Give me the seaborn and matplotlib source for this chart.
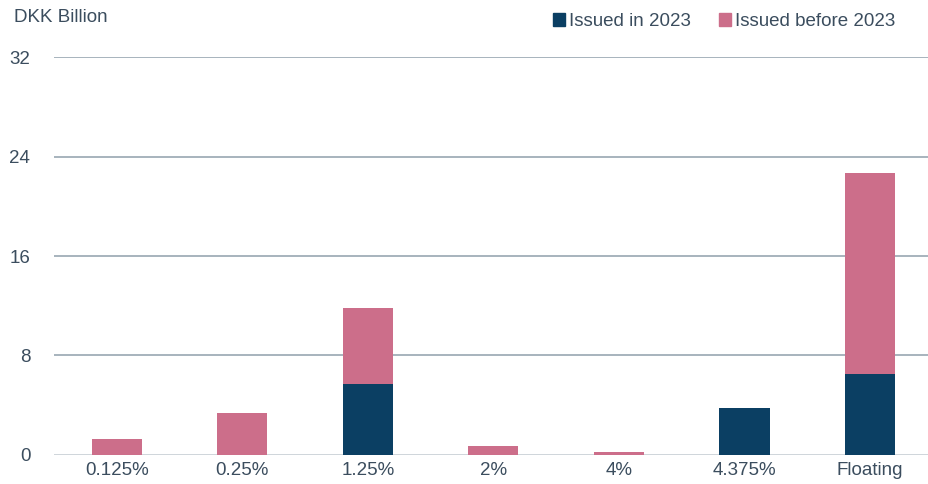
import matplotlib
matplotlib.use("Agg")
import matplotlib.pyplot as plt
from matplotlib.patches import Patch
import seaborn as sns
import pandas as pd

coupons = ["0.125%", "0.25%", "1.25%", "2%", "4%", "4.375%", "Floating"]
issued_2023 = [0.0, 0.0, 5.7, 0.0, 0.0, 3.8, 6.5]
issued_before_2023 = [1.3, 3.4, 6.1, 0.7, 0.2, 0.0, 16.2]
y_ticks = [0, 8, 16, 24, 32]

NAVY = "#0b3f63"
PINK = "#cc6e8a"
TEXT = "#3b4d5e"
GRID = "#a7b3bd"
FS = 13.5

df = pd.DataFrame({
    "coupon": coupons,
    "new": issued_2023,
    "old": issued_before_2023,
})
df["total"] = df["new"] + df["old"]

sns.set_theme(style="white")
plt.rcParams["font.family"] = ["Liberation Sans", "DejaVu Sans"]

fig = plt.figure(figsize=(9.29, 4.84), dpi=100)
ax = fig.add_axes([0.058, 0.06, 0.942, 0.822])

# stacked bars: full height in pink, 2023 issuance drawn over the bottom part
sns.barplot(data=df, x="coupon", y="total", color=PINK, width=0.4,
            saturation=1, ax=ax, zorder=3, linewidth=0)
sns.barplot(data=df, x="coupon", y="new", color=NAVY, width=0.4,
            saturation=1, ax=ax, zorder=4, linewidth=0)

ax.set_ylim(0, 32)
ax.set_xlim(-0.5, 6.47)
ax.set_yticks(y_ticks)
ax.set_yticklabels([str(t) for t in y_ticks])
ax.set_xlabel("")
ax.set_ylabel("")

for t in y_ticks:
    ax.axhline(t, color=GRID if t else "#cfd5da", lw=1.4, zorder=1)

for s in ax.spines.values():
    s.set_visible(False)
ax.tick_params(axis="both", length=0, colors=TEXT, labelsize=FS)
ax.tick_params(axis="y", pad=17)
ax.tick_params(axis="x", pad=5)

fig.text(0.015, 0.963, "DKK Billion", color=TEXT, fontsize=FS,
         ha="left", va="center")

handles = [Patch(color=NAVY, label="Issued in 2023"),
           Patch(color=PINK, label="Issued before 2023")]
fig.legend(handles=handles, loc="center right", bbox_to_anchor=(0.982, 0.955),
           ncol=2, frameon=False, fontsize=FS, handlelength=0.65,
           handleheight=0.65, handletextpad=0.2, columnspacing=1.5,
           labelcolor=TEXT)

fig.savefig("out.png", dpi=100)
